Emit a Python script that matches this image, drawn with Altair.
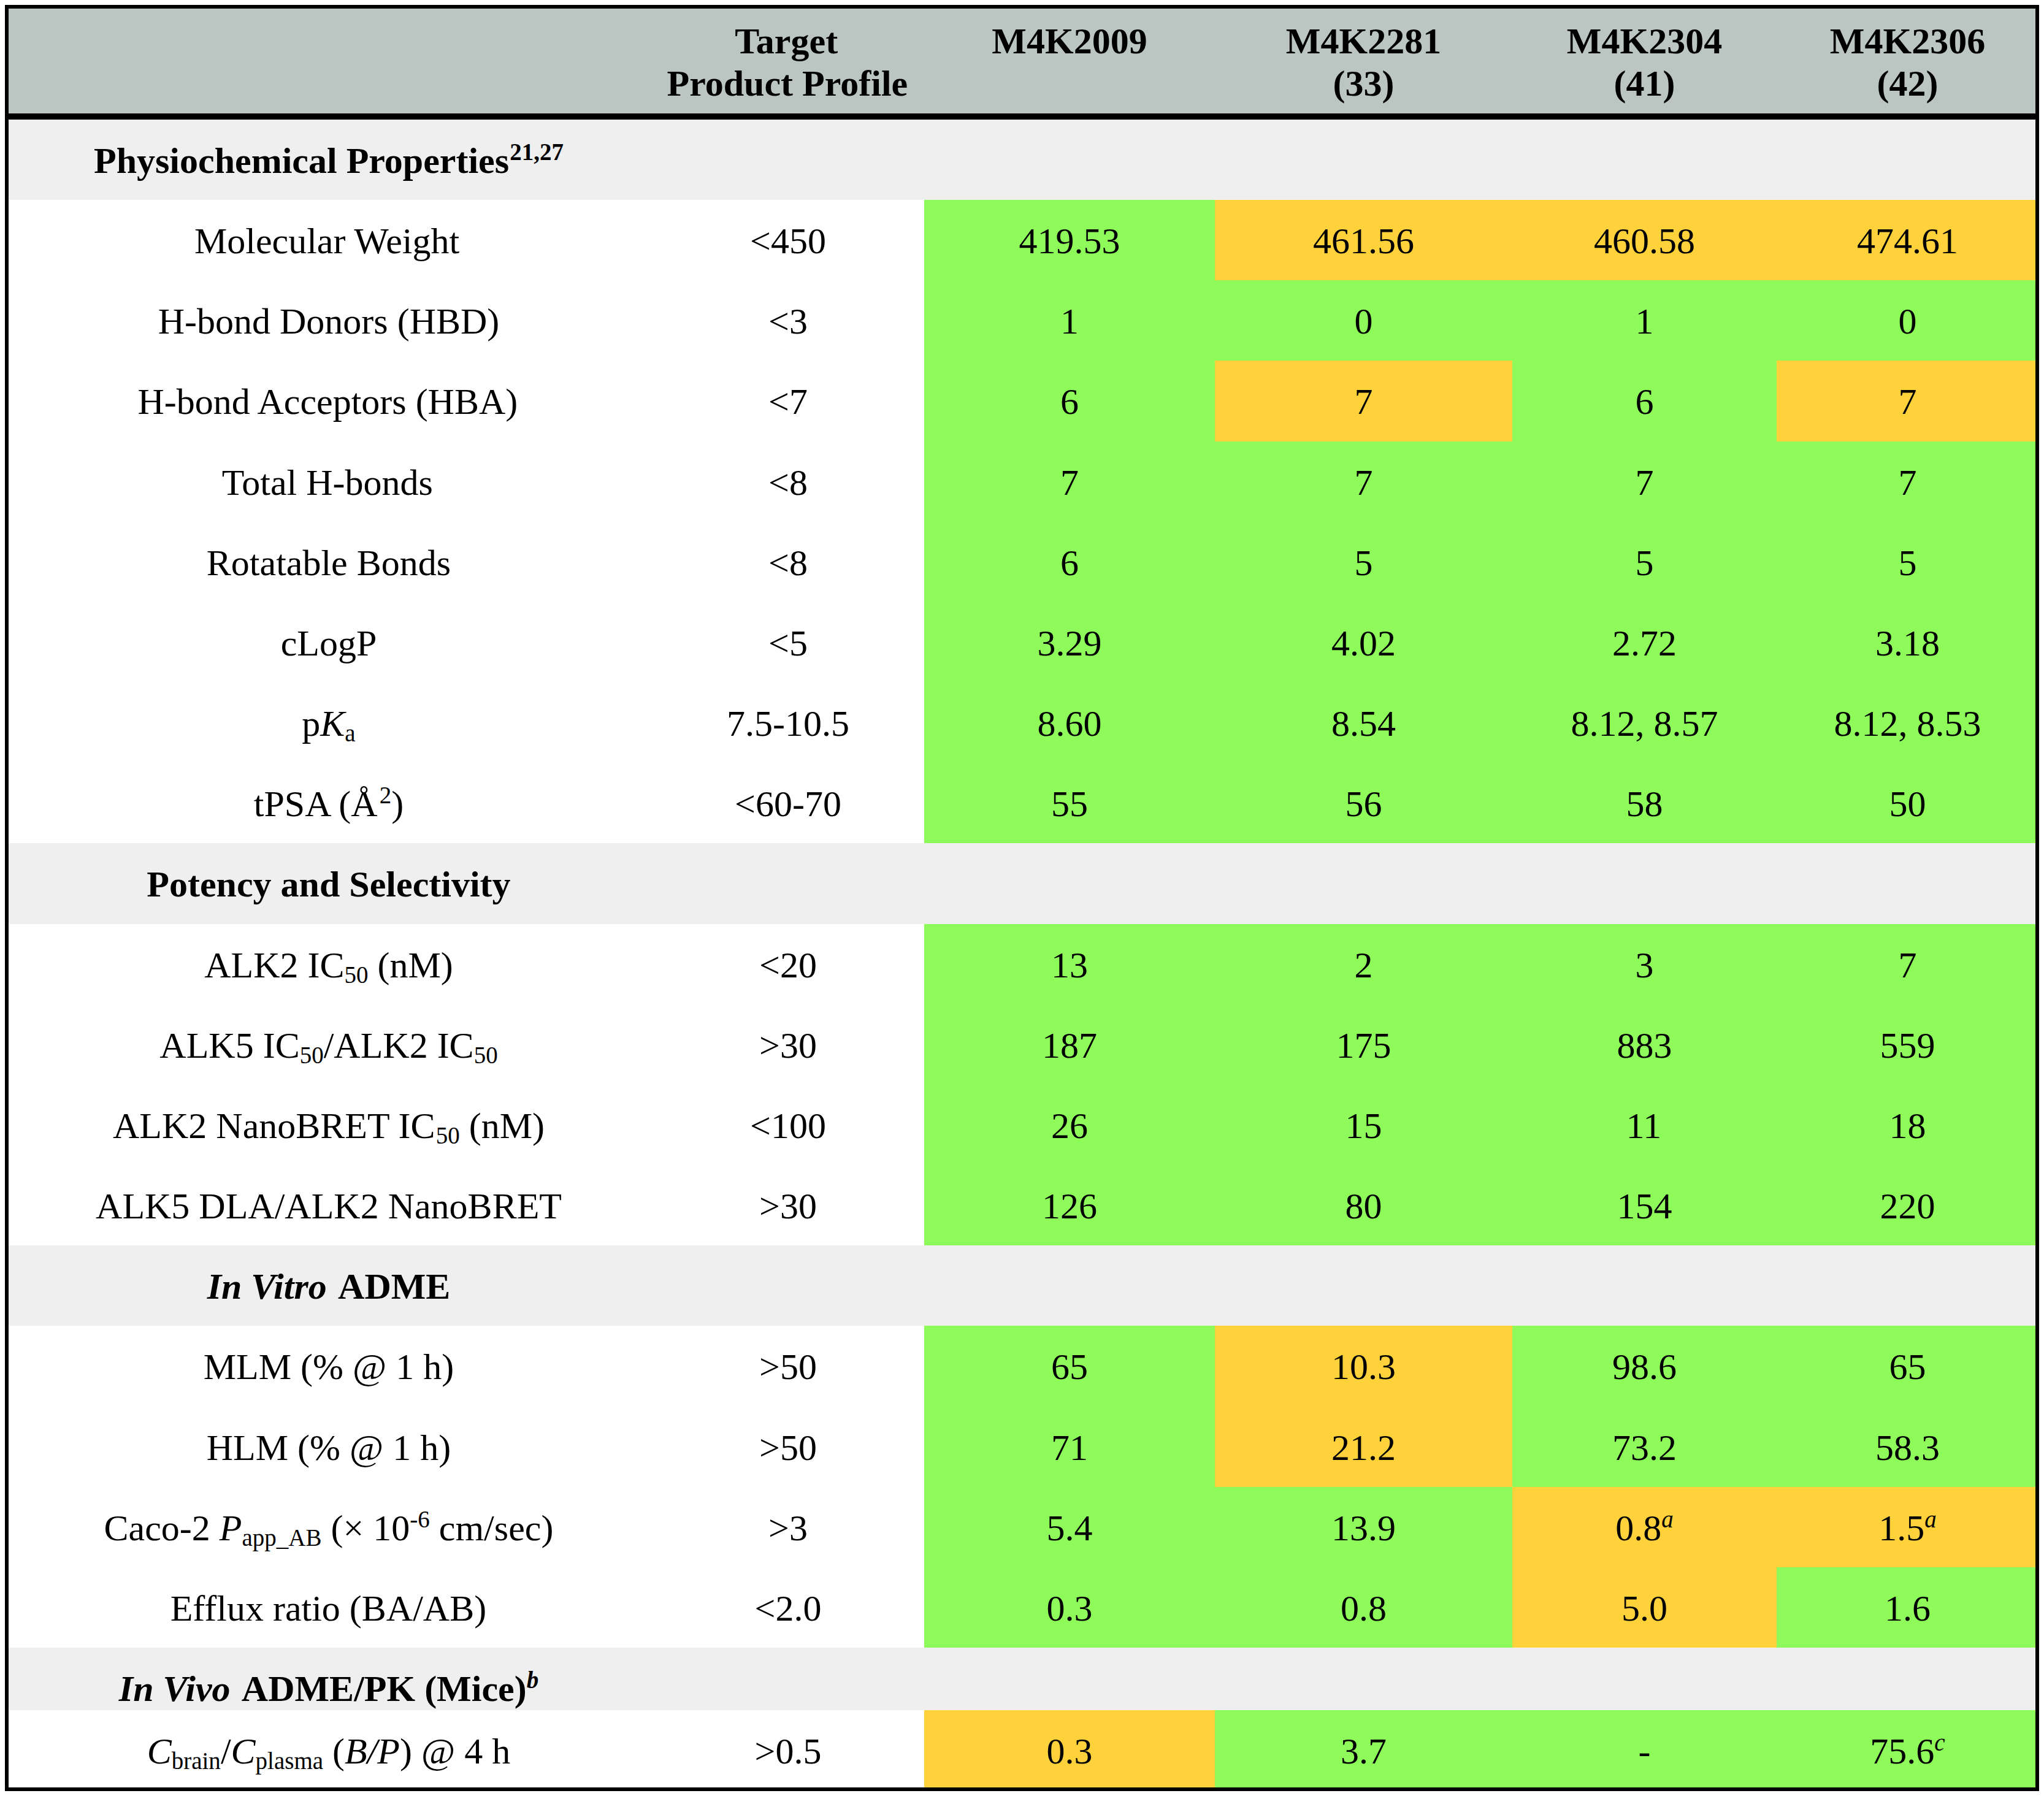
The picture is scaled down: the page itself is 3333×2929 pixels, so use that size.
import altair as alt
import pandas as pd

# ---------------- data ----------------
compounds = ["M4K2009", "M4K2281", "M4K2304", "M4K2306"]
compound_ids = ["", "(33)", "(41)", "(42)"]
target_header = ["Target", "Product Profile"]

sections = ["Physiochemical Properties^{21,27}", "Potency and Selectivity",
            "*In Vitro* ADME", "*In Vivo* ADME/PK (Mice)^{*b*}"]
section_sizes = [8, 4, 4, 1]

properties = [
    "Molecular Weight", "H-bond Donors (HBD)", "H-bond Acceptors (HBA)", "Total H-bonds",
    "Rotatable Bonds", "cLogP", "p*K*_{a}", "tPSA (Å^{2})",
    "ALK2 IC_{50} (nM)", "ALK5 IC_{50}/ALK2 IC_{50}", "ALK2 NanoBRET IC_{50} (nM)", "ALK5 DLA/ALK2 NanoBRET",
    "MLM (% @ 1 h)", "HLM (% @ 1 h)", "Caco-2 *P*_{app_AB} (× 10^{-6} cm/sec)", "Efflux ratio (BA/AB)",
    "*C*_{brain}/*C*_{plasma} (*B/P*) @ 4 h",
]
targets = ["<450", "<3", "<7", "<8", "<8", "<5", "7.5-10.5", "<60-70",
           "<20", ">30", "<100", ">30", ">50", ">50", ">3", "<2.0", ">0.5"]

m4k2009 = ["419.53", "1", "6", "7", "6", "3.29", "8.60", "55", "13", "187", "26", "126",
           "65", "71", "5.4", "0.3", "0.3"]
m4k2281 = ["461.56", "0", "7", "7", "5", "4.02", "8.54", "56", "2", "175", "15", "80",
           "10.3", "21.2", "13.9", "0.8", "3.7"]
m4k2304 = ["460.58", "1", "6", "7", "5", "2.72", "8.12, 8.57", "58", "3", "883", "11", "154",
           "98.6", "73.2", "0.8^{*a*}", "5.0", "-"]
m4k2306 = ["474.61", "0", "7", "7", "5", "3.18", "8.12, 8.53", "50", "7", "559", "18", "220",
           "65", "58.3", "1.5^{*a*}", "1.6", "75.6^{*c*}"]

# 1 = meets target product profile (green), 0 = misses (amber)
m4k2009_ok = [1, 1, 1, 1, 1, 1, 1, 1, 1, 1, 1, 1, 1, 1, 1, 1, 0]
m4k2281_ok = [0, 1, 0, 1, 1, 1, 1, 1, 1, 1, 1, 1, 0, 0, 1, 1, 1]
m4k2304_ok = [0, 1, 1, 1, 1, 1, 1, 1, 1, 1, 1, 1, 1, 1, 0, 0, 1]
m4k2306_ok = [0, 1, 0, 1, 1, 1, 1, 1, 1, 1, 1, 1, 1, 1, 0, 1, 1]

values = [m4k2009, m4k2281, m4k2304, m4k2306]
oks = [m4k2009_ok, m4k2281_ok, m4k2304_ok, m4k2306_ok]

# ---------------- layout / style ----------------
DOM_X = [8, 3325]
DOM_Y = [8, 2921]
COL_EDGES = [9, 1063, 1507, 1981, 2466, 2897, 3324]
HEADER_TOP, HEADER_BOTTOM, RULE_BOTTOM = 9, 185, 195
ROW_H = 131.16
LAST_SECTION_H = 102
BASE_OFF = 87
HEADER_BASELINES = [87, 156]
FS, SFS = 60, 39
SUP_SHIFT, SUB_SHIFT = -21, 9
FRAME_T = 6
FONT = "Liberation Serif"

C_HEADER = "#BBC6C3"
C_SECTION = "#EFEFEF"
C_GREEN = "#8EFB5A"
C_AMBER = "#FFD23B"
C_WHITE = "#FFFFFF"
C_BLACK = "#000000"

# Times New Roman advance widths (1/1000 em)
def _w(s, vals):
    return dict(zip(s, vals))

W_REG = {" ": 250, "!": 333, "%": 833, "(": 333, ")": 333, ",": 250, "-": 333, ".": 250, "/": 278,
         "<": 564, ">": 564, "@": 921, "_": 500, "×": 564, "Å": 722}
W_REG.update({d: 500 for d in "0123456789"})
W_REG.update(_w("ABCDEFGHIJKLMNOPQRSTUVWXYZ",
                [722, 667, 667, 722, 611, 556, 722, 722, 333, 389, 722, 611, 889, 722, 722, 556, 722, 667,
                 556, 611, 722, 722, 944, 722, 722, 611]))
W_REG.update(_w("abcdefghijklmnopqrstuvwxyz",
                [444, 500, 444, 500, 444, 333, 500, 500, 278, 278, 500, 278, 778, 500, 500, 500, 500, 333,
                 389, 278, 500, 500, 722, 500, 500, 444]))
W_IT = dict(W_REG)
W_IT.update(_w("ABCDEFGHIKLMNOPRSTVW", [611, 611, 667, 722, 611, 611, 722, 722, 333, 667, 556, 833, 667,
                                       722, 611, 611, 500, 556, 611, 833]))
W_IT.update(_w("abcdefghiklmnoprstuv", [500, 500, 444, 500, 444, 278, 500, 500, 278, 444, 278, 722, 500,
                                       500, 500, 389, 389, 278, 500, 444]))
W_BOLD = dict(W_REG)
W_BOLD.update(_w("ABCDEFGHIKLMNOPRSTVW", [722, 667, 722, 722, 667, 611, 778, 778, 389, 778, 667, 944, 722,
                                         778, 611, 722, 556, 667, 722, 1000]))
W_BOLD.update(_w("abcdefghiklmnoprstuvy", [500, 556, 444, 556, 444, 333, 500, 556, 278, 556, 278, 833, 556,
                                          500, 556, 444, 389, 333, 556, 500, 500]))
W_BI = dict(W_BOLD)
W_BI.update(_w("IVnivotrb", [389, 667, 556, 278, 444, 500, 278, 389, 500]))


def parse(markup):
    segs = []
    state = {"it": False, "lvl": 0, "buf": ""}

    def flush():
        if state["buf"]:
            segs.append((state["buf"], state["it"], state["lvl"]))
            state["buf"] = ""

    i = 0
    while i < len(markup):
        c = markup[i]
        if c == "*":
            flush()
            state["it"] = not state["it"]
            i += 1
        elif c in "_^" and markup[i + 1:i + 2] == "{":
            flush()
            state["lvl"] = -1 if c == "_" else 1
            i += 2
        elif c == "}" and state["lvl"] != 0:
            flush()
            state["lvl"] = 0
            i += 1
        else:
            state["buf"] += c
            i += 1
    flush()
    return segs


def seg_width(text, bold, italic, size):
    table = (W_BI if italic else W_BOLD) if bold else (W_IT if italic else W_REG)
    return sum(table.get(ch, 500) for ch in text) * size / 1000.0


text_rows = []


def place(markup, cx, baseline, bold=False):
    segs = parse(markup)
    items = []
    total = 0.0
    for txt, it, lvl in segs:
        size = FS if lvl == 0 else SFS
        w = seg_width(txt, bold, it, size)
        items.append((txt, it, lvl, size, w))
        total += w
    x = cx - total / 2.0
    for txt, it, lvl, size, w in items:
        style = ("b" if bold else "") + ("i" if it else "")
        shift = 0 if lvl == 0 else (SUP_SHIFT if lvl > 0 else SUB_SHIFT)
        core = txt.strip(" ")
        if core:
            lead = len(txt) - len(txt.lstrip(" "))
            x_core = x + seg_width(" " * lead, bold, it, size)
            text_rows.append({"x": x_core, "y": baseline + shift, "text": core,
                              "style": style or "n", "size": size})
        x += w


rect_rows = []


def cell(x0, x1, y0, y1, color, layer=0):
    rect_rows.append({"x": x0, "x2": x1, "y": y0, "y2": y1, "fill": color, "layer": layer})


centers = [(COL_EDGES[i] + COL_EDGES[i + 1]) / 2.0 for i in range(len(COL_EDGES) - 1)]

# header
cell(COL_EDGES[0], COL_EDGES[-1], HEADER_TOP, HEADER_BOTTOM, C_HEADER)
for k, line in enumerate(target_header):
    place(line, centers[1], HEADER_BASELINES[k], bold=True)
for j, (name, cid) in enumerate(zip(compounds, compound_ids)):
    place(name, centers[2 + j], HEADER_BASELINES[0], bold=True)
    if cid:
        place(cid, centers[2 + j], HEADER_BASELINES[1], bold=True)

# body
y = float(RULE_BOTTOM)
p = 0
for s, (sec, n) in enumerate(zip(sections, section_sizes)):
    h = LAST_SECTION_H if s == len(sections) - 1 else ROW_H
    top, bot = round(y), round(y + h)
    cell(COL_EDGES[0], COL_EDGES[-1], top, bot, C_SECTION)
    place(sec, centers[0], top + BASE_OFF, bold=True)
    y += h
    for _ in range(n):
        top, bot = round(y), round(y + ROW_H)
        cell(COL_EDGES[0], COL_EDGES[2], top, bot, C_WHITE)
        place(properties[p], centers[0], top + BASE_OFF)
        place(targets[p], centers[1], top + BASE_OFF)
        for j in range(len(compounds)):
            cell(COL_EDGES[2 + j], COL_EDGES[3 + j], top, bot, C_GREEN if oks[j][p] else C_AMBER)
            place(values[j][p], centers[2 + j], top + BASE_OFF)
        y += ROW_H
        p += 1

# frame and header rule
cell(DOM_X[0], DOM_X[1], DOM_Y[0], DOM_Y[0] + FRAME_T, C_BLACK, 1)
cell(DOM_X[0], DOM_X[1], DOM_Y[1] - FRAME_T, DOM_Y[1], C_BLACK, 1)
cell(DOM_X[0], DOM_X[0] + FRAME_T, DOM_Y[0], DOM_Y[1], C_BLACK, 1)
cell(DOM_X[1] - FRAME_T, DOM_X[1], DOM_Y[0], DOM_Y[1], C_BLACK, 1)
cell(DOM_X[0], DOM_X[1], HEADER_BOTTOM, RULE_BOTTOM, C_BLACK, 1)

rects = pd.DataFrame(rect_rows)
texts = pd.DataFrame(text_rows)

W = DOM_X[1] - DOM_X[0]
H = DOM_Y[1] - DOM_Y[0]
xs = alt.Scale(domain=DOM_X, nice=False, zero=False)
ys = alt.Scale(domain=DOM_Y, nice=False, zero=False, reverse=True)

base_rect = alt.Chart(rects).mark_rect(strokeWidth=0)
cells_layer = base_rect.transform_filter(alt.datum.layer == 0).encode(
    x=alt.X("x:Q", scale=xs, axis=None), x2="x2:Q",
    y=alt.Y("y:Q", scale=ys, axis=None), y2="y2:Q",
    color=alt.Color("fill:N", scale=None),
)
frame_layer = base_rect.transform_filter(alt.datum.layer == 1).encode(
    x=alt.X("x:Q", scale=xs, axis=None), x2="x2:Q",
    y=alt.Y("y:Q", scale=ys, axis=None), y2="y2:Q",
    color=alt.Color("fill:N", scale=None),
)

styles = {"n": ("normal", "normal"), "i": ("normal", "italic"),
          "b": ("bold", "normal"), "bi": ("bold", "italic")}
text_layers = []
for key, (weight, fstyle) in styles.items():
    text_layers.append(
        alt.Chart(texts).transform_filter(alt.datum.style == key).mark_text(
            align="left", baseline="alphabetic", font=FONT, fontWeight=weight,
            fontStyle=fstyle, color="black",
        ).encode(
            x=alt.X("x:Q", scale=xs, axis=None),
            y=alt.Y("y:Q", scale=ys, axis=None),
            text="text:N",
            size=alt.Size("size:Q", scale=None),
        )
    )

chart = alt.layer(cells_layer, *text_layers, frame_layer).properties(
    width=W, height=H, padding=0,
    autosize=alt.AutoSizeParams(type="fit", contains="padding"),
    background="white",
).configure_view(strokeWidth=0)

chart.save("out.html", embed_options={"renderer": "svg", "actions": False})
